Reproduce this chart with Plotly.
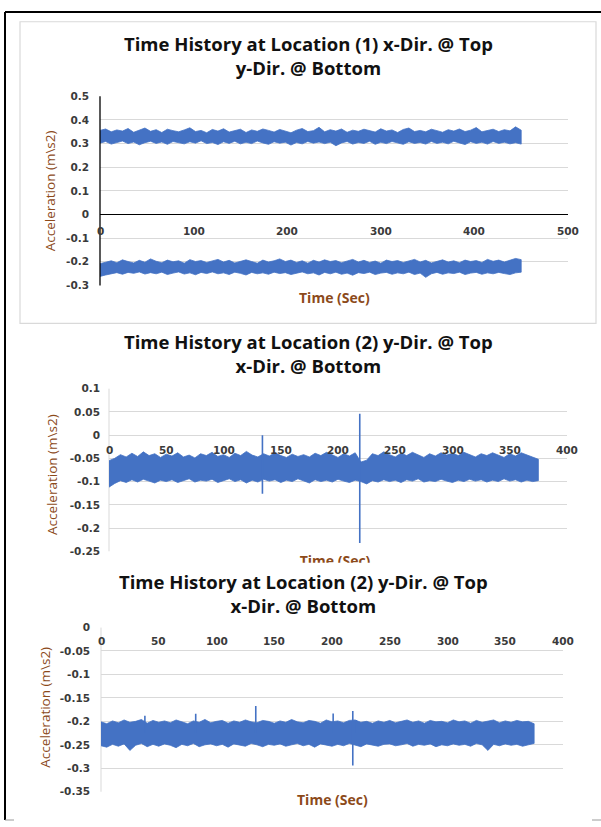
import plotly.graph_objects as go

W, H = 601, 827

# ---------------- data ----------------
# Chart 1: Location (1), envelope of the signal sampled every 6 s (0..450 s)
t1 = list(range(0, 451, 6))
top_hi = [0.356, 0.362, 0.350, 0.358, 0.353, 0.364, 0.348, 0.357, 0.366, 0.352,
          0.359, 0.347, 0.361, 0.355, 0.350, 0.358, 0.367, 0.351, 0.356, 0.346,
          0.360, 0.353, 0.363, 0.349, 0.355, 0.361, 0.347, 0.358, 0.352, 0.362,
          0.356, 0.349, 0.360, 0.353, 0.346, 0.357, 0.364, 0.351, 0.355, 0.369,
          0.350, 0.359, 0.353, 0.362, 0.348, 0.357, 0.352, 0.361, 0.355, 0.349,
          0.363, 0.353, 0.358, 0.347, 0.360, 0.366, 0.351, 0.356, 0.350, 0.361,
          0.355, 0.348, 0.359, 0.353, 0.362, 0.351, 0.357, 0.368, 0.350, 0.356,
          0.361, 0.351, 0.359, 0.354, 0.371, 0.357]
top_lo = [0.302, 0.309, 0.298, 0.306, 0.311, 0.300, 0.307, 0.295, 0.304, 0.310,
          0.301, 0.307, 0.297, 0.309, 0.303, 0.299, 0.308, 0.302, 0.312, 0.300,
          0.305, 0.296, 0.308, 0.301, 0.310, 0.299, 0.306, 0.300, 0.311, 0.303,
          0.297, 0.308, 0.302, 0.306, 0.294, 0.305, 0.299, 0.309, 0.302, 0.307,
          0.300, 0.306, 0.291, 0.303, 0.309, 0.298, 0.305, 0.301, 0.310, 0.297,
          0.306, 0.300, 0.309, 0.303, 0.297, 0.308, 0.301, 0.305, 0.298, 0.309,
          0.301, 0.306, 0.299, 0.310, 0.303, 0.296, 0.308, 0.301, 0.306, 0.298,
          0.309, 0.301, 0.306, 0.299, 0.304, 0.298]
bot_hi = [-0.208, -0.201, -0.196, -0.204, -0.192, -0.199, -0.205, -0.194, -0.202, -0.188,
          -0.198, -0.204, -0.193, -0.200, -0.196, -0.206, -0.191, -0.199, -0.195, -0.203,
          -0.196, -0.190, -0.201, -0.194, -0.205, -0.197, -0.192, -0.199, -0.206, -0.193,
          -0.201, -0.196, -0.188, -0.199, -0.193, -0.203, -0.196, -0.206, -0.194, -0.201,
          -0.192, -0.199, -0.195, -0.204, -0.196, -0.190, -0.201, -0.194, -0.203, -0.197,
          -0.206, -0.193, -0.199, -0.195, -0.203, -0.196, -0.190, -0.201, -0.194, -0.205,
          -0.197, -0.192, -0.201, -0.196, -0.204, -0.193, -0.199, -0.195, -0.203, -0.190,
          -0.198, -0.193, -0.201, -0.192, -0.186, -0.191]
bot_lo = [-0.262, -0.256, -0.250, -0.246, -0.253, -0.245, -0.249, -0.243, -0.252, -0.246,
          -0.251, -0.244, -0.254, -0.248, -0.243, -0.252, -0.247, -0.255, -0.245, -0.250,
          -0.243, -0.251, -0.247, -0.254, -0.244, -0.249, -0.256, -0.245, -0.251, -0.247,
          -0.253, -0.244, -0.250, -0.246, -0.254, -0.248, -0.243, -0.251, -0.247, -0.256,
          -0.245, -0.251, -0.244, -0.253, -0.248, -0.257, -0.246, -0.250, -0.244, -0.254,
          -0.248, -0.245, -0.253, -0.247, -0.251, -0.244, -0.254, -0.248, -0.266, -0.251,
          -0.245, -0.253, -0.247, -0.250, -0.244, -0.254, -0.248, -0.245, -0.253, -0.247,
          -0.251, -0.245, -0.250, -0.254, -0.247, -0.244]

# Chart 2: Location (2), envelope sampled every 5 s (0..375 s)
t2 = list(range(0, 376, 5))
c2_hi = [-0.055, -0.050, -0.042, -0.047, -0.039, -0.046, -0.036, -0.044, -0.040, -0.048,
         -0.041, -0.045, -0.038, -0.047, -0.043, -0.049, -0.040, -0.044, -0.037, -0.046,
         -0.042, -0.048, -0.039, -0.044, -0.035, -0.043, -0.047, -0.040, -0.045, -0.038,
         -0.044, -0.048, -0.041, -0.046, -0.042, -0.047, -0.039, -0.044, -0.037, -0.043,
         -0.048, -0.040, -0.045, -0.038, -0.058, -0.054, -0.040, -0.044, -0.036, -0.042,
         -0.047, -0.039, -0.044, -0.037, -0.043, -0.048, -0.040, -0.045, -0.038, -0.043,
         -0.039, -0.044, -0.037, -0.042, -0.047, -0.040, -0.044, -0.038, -0.043, -0.048,
         -0.040, -0.045, -0.038, -0.043, -0.047, -0.052]
c2_lo = [-0.112, -0.104, -0.098, -0.102, -0.096, -0.101, -0.095, -0.099, -0.103, -0.097,
         -0.100, -0.096, -0.102, -0.098, -0.094, -0.101, -0.097, -0.099, -0.095, -0.102,
         -0.098, -0.094, -0.100, -0.096, -0.103, -0.097, -0.101, -0.095, -0.099, -0.096,
         -0.102, -0.097, -0.100, -0.094, -0.099, -0.103, -0.096, -0.100, -0.097, -0.101,
         -0.095, -0.099, -0.102, -0.097, -0.100, -0.105, -0.098, -0.101, -0.096, -0.100,
         -0.097, -0.102, -0.096, -0.099, -0.094, -0.101, -0.098, -0.100, -0.095, -0.099,
         -0.102, -0.097, -0.100, -0.095, -0.099, -0.096, -0.101, -0.097, -0.100, -0.094,
         -0.099, -0.096, -0.101, -0.097, -0.100, -0.098]
c2_spike_t = [134, 219]
c2_spike_hi = [0.000, 0.046]
c2_spike_lo = [-0.126, -0.232]

# Chart 3: Location (2), envelope sampled every 5 s (0..375 s)
t3 = list(range(0, 376, 5))
c3_hi = [-0.201, -0.205, -0.199, -0.203, -0.197, -0.202, -0.200, -0.196, -0.204, -0.198,
         -0.202, -0.199, -0.203, -0.197, -0.201, -0.205, -0.199, -0.202, -0.196, -0.203,
         -0.200, -0.198, -0.204, -0.199, -0.202, -0.197, -0.201, -0.203, -0.198, -0.200,
         -0.204, -0.199, -0.202, -0.196, -0.201, -0.203, -0.198, -0.200, -0.204, -0.197,
         -0.201, -0.199, -0.203, -0.198, -0.197, -0.202, -0.200, -0.204, -0.199, -0.202,
         -0.198, -0.203, -0.200, -0.197, -0.202, -0.199, -0.204, -0.198, -0.201, -0.200,
         -0.203, -0.197, -0.201, -0.199, -0.204, -0.198, -0.202, -0.200, -0.197, -0.203,
         -0.199, -0.202, -0.198, -0.201, -0.200, -0.205]
c3_lo = [-0.252, -0.255, -0.249, -0.253, -0.248, -0.262, -0.251, -0.247, -0.254, -0.249,
         -0.253, -0.248, -0.251, -0.256, -0.249, -0.252, -0.247, -0.254, -0.250, -0.248,
         -0.252, -0.249, -0.255, -0.248, -0.251, -0.253, -0.247, -0.250, -0.254, -0.249,
         -0.251, -0.248, -0.253, -0.250, -0.247, -0.252, -0.249, -0.255, -0.248, -0.251,
         -0.253, -0.249, -0.252, -0.247, -0.251, -0.254, -0.248, -0.250, -0.253, -0.249,
         -0.248, -0.252, -0.250, -0.247, -0.253, -0.249, -0.251, -0.248, -0.254, -0.250,
         -0.252, -0.248, -0.251, -0.249, -0.253, -0.247, -0.250, -0.262, -0.249, -0.252,
         -0.248, -0.251, -0.249, -0.253, -0.250, -0.247]
c3_spike_t = [38, 82, 134, 201, 218, 221]
c3_spike_hi = [-0.188, -0.184, -0.167, -0.183, -0.178, -0.197]
c3_spike_lo = [-0.225, -0.225, -0.225, -0.225, -0.294, -0.225]

# tick labels
c1_yticks = [0.5, 0.4, 0.3, 0.2, 0.1, 0, -0.1, -0.2, -0.3]
c1_xticks = [0, 100, 200, 300, 400, 500]
c2_yticks = [0.1, 0.05, 0, -0.05, -0.1, -0.15, -0.2, -0.25]
c23_xticks = [0, 50, 100, 150, 200, 250, 300, 350, 400]
c3_yticks = [0, -0.05, -0.1, -0.15, -0.2, -0.25, -0.3, -0.35]

title1 = ["Time History at Location (1) x-Dir. @ Top", "y-Dir. @ Bottom"]
title2 = ["Time History at Location (2) y-Dir. @ Top", "x-Dir. @ Bottom"]
title3 = ["Time History at Location (2) y-Dir. @ Top", "x-Dir. @ Bottom"]
ytitle = "Acceleration (m\\s2)"
xtitle = "Time (Sec)"

# ---------------- styling ----------------
BLUE = "#4472C4"
GRID = "#d9d9d9"
TICKC = "#3a3a3a"
BROWN = "#8c4a1a"
TICKFONT = dict(family="DejaVu Sans", size=10.5, color=TICKC, weight="bold")
TITLEFONT = dict(family="Open Sans", size=18.5, color="#111111", weight="bold")
XTFONT = dict(family="Open Sans", size=14, color=BROWN, weight="bold")
YTFONT = dict(family="Open Sans", size=13.5, color=BROWN)


def px(x):
    return x / W


def py(y):
    return 1 - y / H


def band(t, hi, lo, xa, ya):
    return go.Scatter(x=list(t) + list(t)[::-1], y=list(hi) + list(lo)[::-1],
                      mode="lines", fill="toself", fillcolor=BLUE,
                      line=dict(color=BLUE, width=0.8), xaxis=xa, yaxis=ya,
                      hoverinfo="skip", showlegend=False)


def spikes(ts, his, los, xa, ya):
    xs, ys = [], []
    for t, h, l in zip(ts, his, los):
        xs += [t, t, None]
        ys += [l, h, None]
    return go.Scatter(x=xs, y=ys, mode="lines", line=dict(color=BLUE, width=1.6),
                      xaxis=xa, yaxis=ya, hoverinfo="skip", showlegend=False)


fig = go.Figure()
fig.add_trace(band(t1, top_hi, top_lo, "x", "y"))
fig.add_trace(band(t1, bot_hi, bot_lo, "x", "y"))
fig.add_trace(band(t2, c2_hi, c2_lo, "x2", "y2"))
fig.add_trace(spikes(c2_spike_t, c2_spike_hi, c2_spike_lo, "x2", "y2"))
fig.add_trace(band(t3, c3_hi, c3_lo, "x3", "y3"))
fig.add_trace(spikes(c3_spike_t, c3_spike_hi, c3_spike_lo, "x3", "y3"))

# clipped x-axis title of chart 2 (covered by chart 3 in the original)
fig.add_trace(go.Scatter(x=[0.5], y=[0.0], mode="text", text=[xtitle],
                         textfont=XTFONT, cliponaxis=True, xaxis="x4", yaxis="y4",
                         hoverinfo="skip", showlegend=False))

# geometry (pixels)
c1 = dict(x0=100, x1=568, yt=91.7, yb=283.5)
c2 = dict(x0=109, x1=567, yt=388.3, yb=553.3)
c3 = dict(x0=101, x1=563, yt=630.7, yb=797.3)

common_x = dict(showgrid=False, zeroline=False, showline=False, ticks="",
                showticklabels=False, fixedrange=True)
common_y = dict(showgrid=True, gridcolor=GRID, gridwidth=1, ticks="", showline=False,
                tickfont=TICKFONT, fixedrange=True)

fig.update_layout(
    xaxis=dict(common_x, domain=[px(c1["x0"]), px(c1["x1"])], range=[0, 500], anchor="y"),
    yaxis=dict(common_y, domain=[py(c1["yb"]), py(c1["yt"])], range=[-0.3, 0.5],
               tickvals=c1_yticks, ticktext=[f"{v:g}" for v in c1_yticks],
               zeroline=True, zerolinecolor="black", zerolinewidth=1.2,
               ticklabelstandoff=10, anchor="x"),
    xaxis2=dict(common_x, domain=[px(c2["x0"]), px(c2["x1"])], range=[0, 400], anchor="y2"),
    yaxis2=dict(common_y, domain=[py(c2["yb"]), py(c2["yt"])], range=[-0.25, 0.1],
                tickvals=c2_yticks, ticktext=[f"{v:g}" for v in c2_yticks],
                zeroline=False, ticklabelstandoff=8, anchor="x2"),
    xaxis3=dict(common_x, domain=[px(c3["x0"]), px(c3["x1"])], range=[0, 400], anchor="y3"),
    yaxis3=dict(common_y, domain=[py(c3["yb"]), py(c3["yt"])], range=[-0.35, 0],
                tickvals=c3_yticks, ticktext=[f"{v:g}" for v in c3_yticks],
                zeroline=False, ticklabelstandoff=10, anchor="x3"),
    xaxis4=dict(domain=[px(250), px(420)], range=[0, 1], visible=False,
                anchor="y4", fixedrange=True),
    yaxis4=dict(domain=[py(565), py(553)], range=[0, 1], visible=False,
                anchor="x4", fixedrange=True),
    width=W, height=H, margin=dict(l=0, r=0, t=0, b=0),
    paper_bgcolor="white", plot_bgcolor="rgba(0,0,0,0)",
    showlegend=False,
)

ann = []
# x tick labels sit just under the y=0 line (Excel style axis crossing)
for xa, ya, ticks, shift in [("x", "y", c1_xticks, -16), ("x2", "y2", c23_xticks, -14.5),
                             ("x3", "y3", c23_xticks, -13.5)]:
    for v in ticks:
        ann.append(dict(x=v, y=0, xref=xa, yref=ya, text=str(v), showarrow=False,
                        xanchor="center", yanchor="middle", yshift=shift, font=TICKFONT))
# titles (two lines each)
for (cx, cy), ttl in [((308, 50), title1), ((308, 353), title2), ((303, 596), title3)]:
    ann.append(dict(x=px(cx), y=py(cy), text="<br>".join(ttl), showarrow=False,
                    xref="paper", yref="paper", xanchor="center", yanchor="middle",
                    align="center", font=TITLEFONT))
# axis titles
for (x, y) in [(50, 188), (52, 476), (45, 712)]:
    ann.append(dict(x=px(x), y=py(y), text=ytitle, textangle=-90, showarrow=False,
                    xref="paper", yref="paper", xanchor="center", yanchor="middle",
                    font=YTFONT))
for (x, y) in [(335, 296), (332, 805)]:
    ann.append(dict(x=px(x), y=py(y), text=xtitle, showarrow=False,
                    xref="paper", yref="paper", xanchor="center", yanchor="middle",
                    font=XTFONT))
fig.update_layout(annotations=ann)

# frames and vertical axis lines
shapes = [
    dict(type="rect", xref="paper", yref="paper", x0=px(20), x1=px(596), y0=py(322), y1=py(16),
         line=dict(color=GRID, width=1.2), layer="below"),
    dict(type="line", xref="x domain", yref="y domain", x0=0, x1=0, y0=0, y1=1,
         line=dict(color="black", width=1.3)),
    dict(type="line", xref="x2 domain", yref="y2 domain", x0=0, x1=0, y0=0, y1=1,
         line=dict(color=GRID, width=1), layer="below"),
    dict(type="line", xref="x3 domain", yref="y3 domain", x0=0, x1=0, y0=0, y1=1,
         line=dict(color=GRID, width=1), layer="below"),
    dict(type="line", xref="paper", yref="paper", x0=px(5), x1=px(601), y0=py(6), y1=py(6),
         line=dict(color="black", width=2)),
    dict(type="line", xref="paper", yref="paper", x0=px(5), x1=px(5), y0=py(6), y1=py(826),
         line=dict(color="black", width=2)),
    dict(type="line", xref="paper", yref="paper", x0=px(5), x1=px(14), y0=py(826), y1=py(826),
         line=dict(color="#9a9a9a", width=1)),
    dict(type="line", xref="paper", yref="paper", x0=px(592), x1=px(601), y0=py(826), y1=py(826),
         line=dict(color="#9a9a9a", width=1)),
]
fig.update_layout(shapes=shapes)

fig.write_html("out.html")
